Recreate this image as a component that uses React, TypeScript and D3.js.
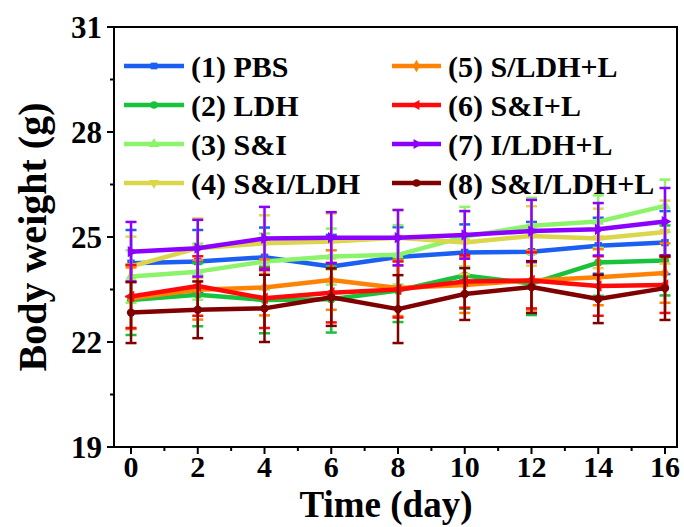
import React from 'react';
import * as d3 from 'd3';

const days = [0, 2, 4, 6, 8, 10, 12, 14, 16];
const names = ['(1) PBS', '(2) LDH', '(3) S&I', '(4) S&I/LDH', '(5) S/LDH+L', '(6) S&I+L', '(7) I/LDH+L', '(8) S&I/LDH+L'];
const colors = ['#1a5ef2', '#19c23c', '#8cf46a', '#dcd64a', '#ff8205', '#ff0a0a', '#8c00ff', '#800000'];

const pbs = [24.25, 24.3, 24.42, 24.16, 24.43, 24.56, 24.58, 24.75, 24.84];
const ldh = [23.2, 23.35, 23.2, 23.22, 23.47, 23.9, 23.67, 24.27, 24.33];
const si = [23.87, 24.01, 24.3, 24.44, 24.49, 25.01, 25.32, 25.44, 25.89];
const siLdh = [24.16, 24.68, 24.82, 24.87, 24.98, 24.84, 25.03, 24.96, 25.14];
const sLdhL = [23.25, 23.49, 23.56, 23.77, 23.54, 23.63, 23.76, 23.85, 23.97];
const siL = [23.3, 23.6, 23.25, 23.41, 23.5, 23.73, 23.76, 23.6, 23.63];
const iLdhL = [24.58, 24.68, 24.96, 24.98, 24.98, 25.06, 25.17, 25.22, 25.44];
const siLdhL = [22.84, 22.92, 22.96, 23.28, 22.94, 23.37, 23.57, 23.23, 23.54];

const pbsErr = [0.95, 0.9, 0.85, 0.9, 0.85, 0.8, 0.85, 0.8, 0.9];
const ldhErr = [1.0, 0.9, 0.95, 0.95, 0.9, 0.95, 0.9, 0.95, 1.0];
const siErr = [0.75, 0.8, 0.8, 0.8, 0.85, 0.85, 0.8, 0.75, 0.75];
const siLdhErr = [0.85, 0.85, 0.8, 0.8, 0.8, 0.9, 0.85, 0.85, 0.9];
const sLdhLErr = [0.88, 0.85, 0.8, 0.85, 0.8, 0.8, 0.85, 0.8, 0.85];
const siLErr = [0.9, 0.85, 0.85, 0.85, 0.8, 0.75, 0.8, 0.85, 0.8];
const iLdhLErr = [0.85, 0.81, 0.9, 0.73, 0.79, 0.68, 0.89, 0.75, 0.96];
const siLdhLErr = [0.87, 0.81, 0.96, 0.82, 0.97, 0.74, 0.74, 0.69, 0.91];

const series = [pbs, ldh, si, siLdh, sLdhL, siL, iLdhL, siLdhL];
const errors = [pbsErr, ldhErr, siErr, siLdhErr, sLdhLErr, siLErr, iLdhLErr, siLdhLErr];

const yTicks = [19, 22, 25, 28, 31];
const xTicks = [0, 2, 4, 6, 8, 10, 12, 14, 16];

// symbol type + rotation for each series marker
const markers: [d3.SymbolType, number][] = [
  [d3.symbolSquare, 0],
  [d3.symbolCircle, 0],
  [d3.symbolTriangle, 0],
  [d3.symbolTriangle, 180],
  [d3.symbolDiamond, 0],
  [d3.symbolTriangle, -90],
  [d3.symbolTriangle, 90],
  [d3.symbolCircle, 0],
];

const W = 684;
const H = 527;
const left = 114, right = 677, top = 27, bottom = 447;
const font = '"Liberation Serif", "Times New Roman", serif';

export default function App() {
  const x = d3.scaleLinear().domain([-0.51, 16.36]).range([left, right]);
  const y = d3.scaleLinear().domain([19, 31]).range([bottom, top]);
  const line = d3.line<number>().x((_, i) => x(days[i])).y(d => y(d));
  const minorY = d3.range(20.5, 31, 3);
  const minorX = d3.range(1, 16, 2);
  const cap = 5.5;

  return (
    <svg width={W} height={H} style={{position: 'absolute', left: 0, top: 0, background: '#fff'}}>
      {/* data */}
      {series.map((vals, s) => {
        const [type, rot] = markers[s];
        const sym = d3.symbol().type(type).size(55)()!;
        return (
          <g key={s}>
            <path d={line(vals)!} fill="none" stroke={colors[s]} strokeWidth={4.5} strokeLinejoin="round" />
            {vals.map((v, i) => {
              const cx = x(days[i]);
              const y0 = y(v - errors[s][i]);
              const y1 = y(v + errors[s][i]);
              return (
                <g key={i} stroke={colors[s]} strokeWidth={2.5}>
                  <line x1={cx} x2={cx} y1={y0} y2={y1} />
                  <line x1={cx - cap} x2={cx + cap} y1={y0} y2={y0} />
                  <line x1={cx - cap} x2={cx + cap} y1={y1} y2={y1} />
                </g>
              );
            })}
            {vals.map((v, i) => (
              <path key={'m' + i} d={sym} fill={colors[s]}
                transform={`translate(${x(days[i])},${y(v)}) rotate(${rot})`} />
            ))}
          </g>
        );
      })}

      {/* frame */}
      <rect x={left} y={top} width={right - left} height={bottom - top} fill="none" stroke="#000" strokeWidth={2} />

      {/* y axis */}
      {yTicks.map(t => (
        <g key={t}>
          <line x1={left - 7} x2={left} y1={y(t)} y2={y(t)} stroke="#000" strokeWidth={2} />
          <text x={left - 12} y={y(t)} dy="0.35em" textAnchor="end" fontFamily={font} fontWeight="bold" fontSize={31}>{t}</text>
        </g>
      ))}
      {minorY.map(t => (
        <line key={t} x1={left - 4} x2={left} y1={y(t)} y2={y(t)} stroke="#000" strokeWidth={2} />
      ))}

      {/* x axis */}
      {xTicks.map(t => (
        <g key={t}>
          <line x1={x(t)} x2={x(t)} y1={bottom} y2={bottom + 7} stroke="#000" strokeWidth={2} />
          <text x={x(t)} y={477} textAnchor="middle" fontFamily={font} fontWeight="bold" fontSize={30}>{t}</text>
        </g>
      ))}
      {minorX.map(t => (
        <line key={t} x1={x(t)} x2={x(t)} y1={bottom} y2={bottom + 4} stroke="#000" strokeWidth={2} />
      ))}

      <text x={386} y={517} textAnchor="middle" fontFamily={font} fontWeight="bold" fontSize={37}>Time (day)</text>
      <text transform={`translate(46,${(top + bottom) / 2}) rotate(-90)`} textAnchor="middle" fontFamily={font} fontWeight="bold" fontSize={40}>Body weight (g)</text>

      {/* legend */}
      {names.map((n, s) => {
        const col = s < 4 ? 0 : 1;
        const row = s % 4;
        const lx = col === 0 ? 124 : 392;
        const len = col === 0 ? 60 : 49;
        const ly = 66 + row * 39;
        const [type, rot] = markers[s];
        const sym = d3.symbol().type(type).size(45)()!;
        return (
          <g key={n}>
            <line x1={lx} x2={lx + len} y1={ly} y2={ly} stroke={colors[s]} strokeWidth={4.5} />
            <path d={sym} fill={colors[s]} transform={`translate(${lx + len / 2},${ly}) rotate(${rot})`} />
            <text x={lx + len + 7} y={ly} dy="0.35em" fontFamily={font} fontWeight="bold" fontSize={30}>{n}</text>
          </g>
        );
      })}
    </svg>
  );
}
